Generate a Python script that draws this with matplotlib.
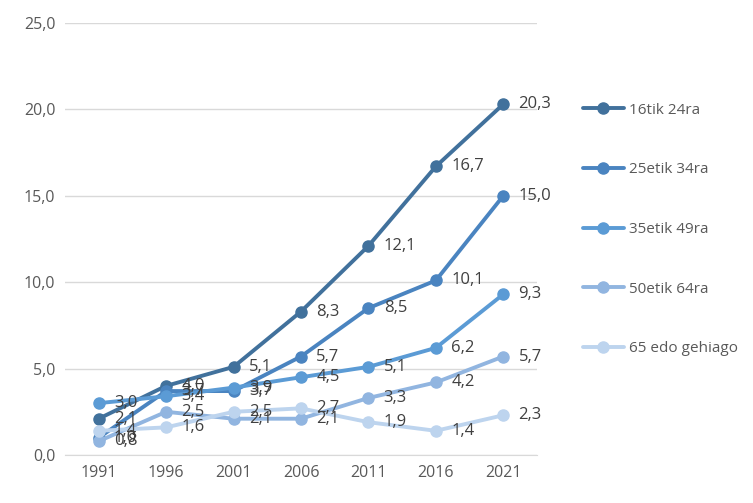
import matplotlib.pyplot as plt
import numpy as np

years = ["1991", "1996", "2001", "2006", "2011", "2016", "2021"]
names = ["16tik 24ra", "25etik 34ra", "35etik 49ra", "50etik 64ra", "65 edo gehiago"]

v16_24 = [2.1, 4.0, 5.1, 8.3, 12.1, 16.7, 20.3]
v25_34 = [1.0, 3.7, 3.7, 5.7, 8.5, 10.1, 15.0]
v35_49 = [3.0, 3.4, 3.9, 4.5, 5.1, 6.2, 9.3]
v50_64 = [0.8, 2.5, 2.1, 2.1, 3.3, 4.2, 5.7]
v65 = [1.4, 1.6, 2.5, 2.7, 1.9, 1.4, 2.3]

series = [v16_24, v25_34, v35_49, v50_64, v65]
colors = ["#41719c", "#4a84c0", "#5b9bd5", "#91b5e0", "#bdd4ee"]

plt.rcParams['font.family'] = ['Open Sans', 'DejaVu Sans']
txt = "#595959"

fig = plt.figure(figsize=(7.53, 5.03), dpi=100)
ax = fig.add_axes([65/753, 1-455/503, 472/753, 432/503])

x = np.arange(len(years))
for vals, name, c in zip(series, names, colors):
    ax.plot(x, vals, color=c, lw=2.8, marker="o", ms=8, label=name,
            solid_capstyle="round")
    for xi, v in zip(x, vals):
        ax.annotate(f"{v:.1f}".replace(".", ","), (xi, v), xytext=(11, 0),
                    textcoords="offset points", va="center", ha="left",
                    fontsize=12, color="#404040")

ax.set_xlim(-0.5, len(years) - 0.5)
ax.set_ylim(0, 25)
ax.set_xticks(x)
ax.set_xticklabels(years)
yt = np.arange(0, 26, 5)
ax.set_yticks(yt)
ax.set_yticklabels([f"{t:.1f}".replace(".", ",") for t in yt])
ax.tick_params(length=0, labelsize=11.5, colors=txt, pad=7)
ax.grid(axis="y", color="#d9d9d9", lw=1)
ax.set_axisbelow(True)
for s in ["top", "right", "left"]:
    ax.spines[s].set_visible(False)
ax.spines["bottom"].set_color("#d9d9d9")

leg = fig.legend(loc="upper left", bbox_to_anchor=(569/753, 1-89/503),
                 frameon=False, fontsize=11, labelspacing=2.92,
                 handlelength=2.7, handletextpad=0.35, labelcolor=txt)

fig.savefig("out.png", dpi=100)
